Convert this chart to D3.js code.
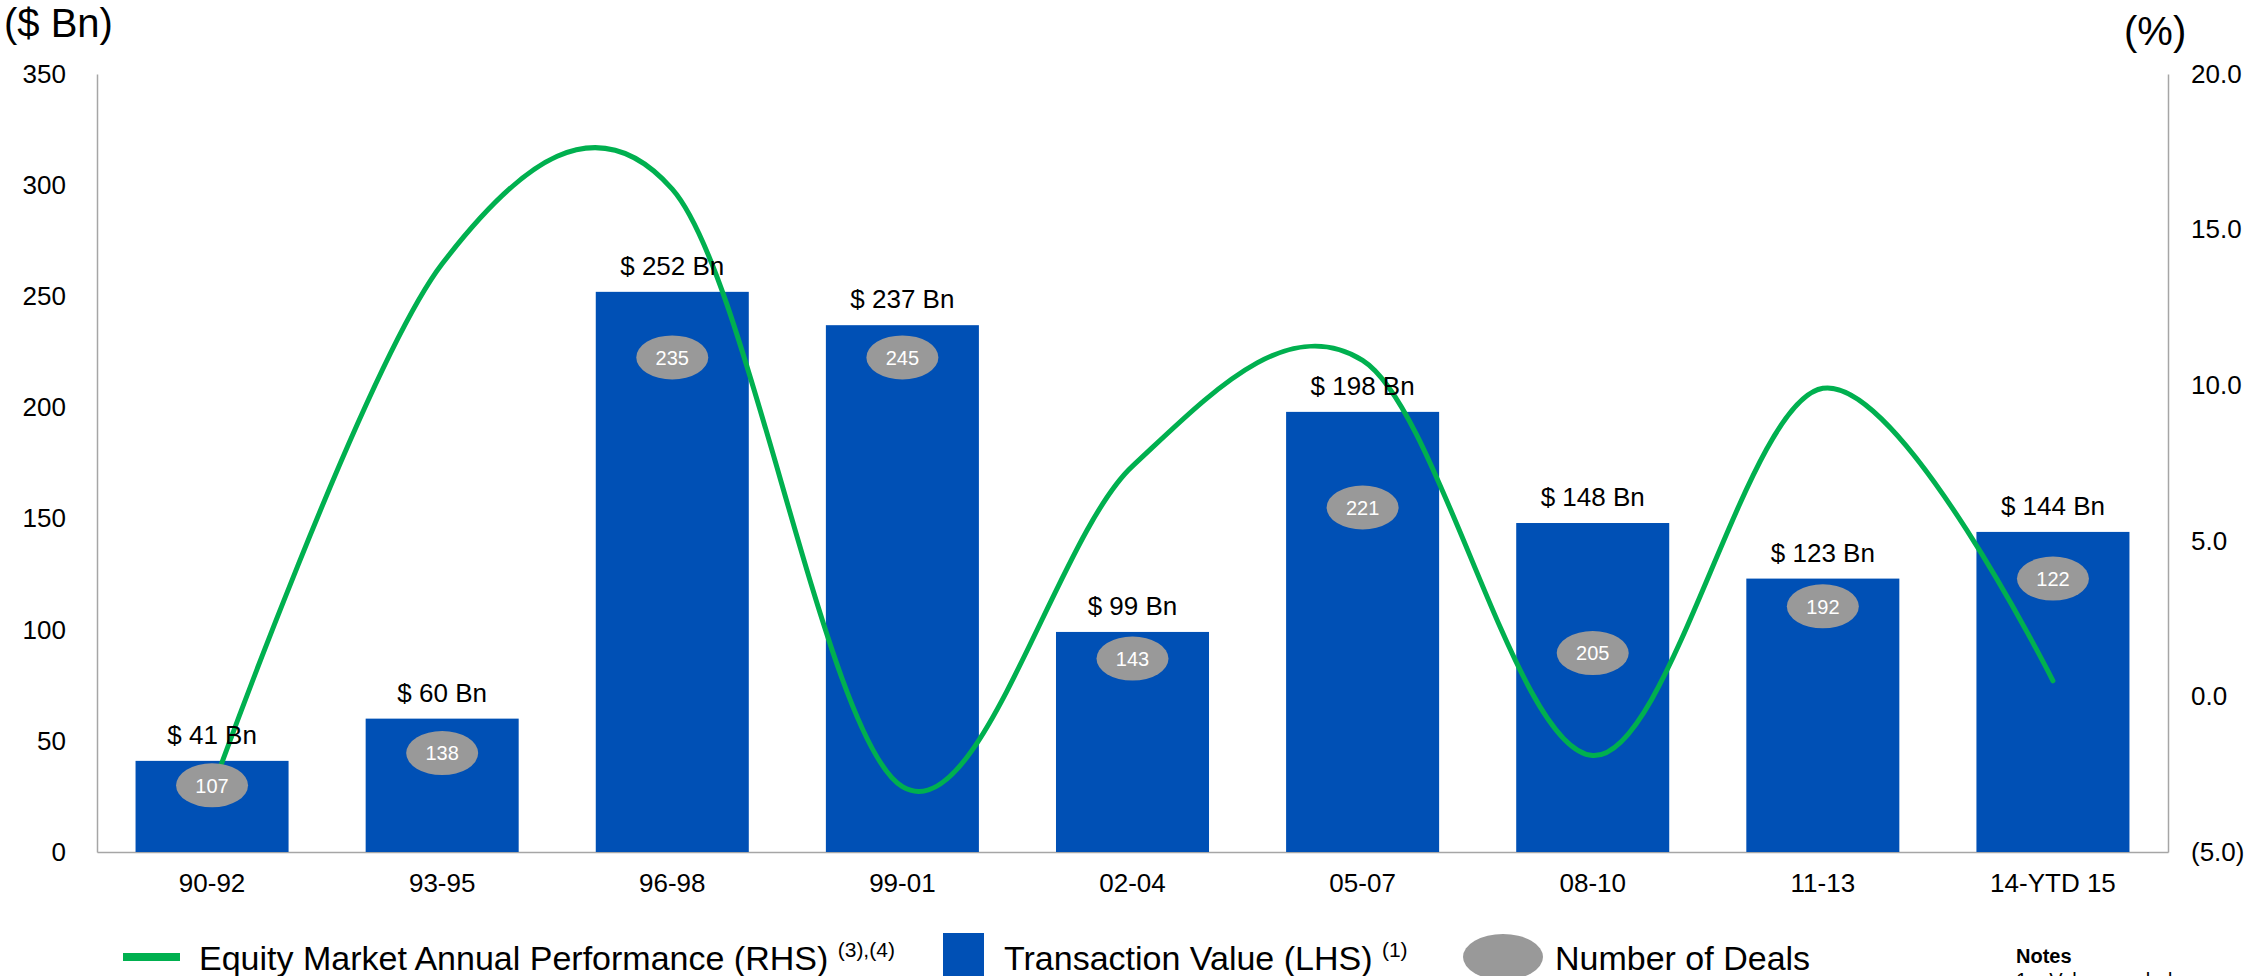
<!DOCTYPE html>
<html lang="en">
  <head>
    <meta charset="UTF-8" />
    <title>Transaction Value vs Equity Market Performance</title>
    <script src="https://cdn.jsdelivr.net/npm/d3@7"></script>
    <style>
      body {
        margin: 0;
        padding: 0;
        background: #fff;
      }
      text {
        font-family: "Liberation Sans", Arial, sans-serif;
      }
    </style>
  </head>
  <body>
    <svg id="chart"></svg>

    <script>
      // data
      const periods = ["90-92", "93-95", "96-98", "99-01", "02-04", "05-07", "08-10", "11-13", "14-YTD 15"];
      const transactionValue = [41, 60, 252, 237, 99, 198, 148, 123, 144];
      const dealCount = [107, 138, 235, 245, 143, 221, 205, 192, 122];
      // where each deal-count badge sits, in $ Bn on the left axis
      const badgeLevel = [30, 44.5, 222.5, 222.5, 87, 155, 89.5, 110.5, 123];
      const equityPerf = [-3.0, 13.9, 16.3, -2.9, 7.4, 10.8, -1.9, 9.9, 0.5];
      const leftTicks = [0, 50, 100, 150, 200, 250, 300, 350];
      const rightTicks = [-5, 0, 5, 10, 15, 20];

      const width = 2252;
      const height = 976;
      const plot = { left: 97, right: 2168, top: 74, bottom: 852 };

      const blue = "#0050b5";
      const green = "#00b04f";
      const grey = "#999999";
      const axisGrey = "#a6a6a6";

      const svg = d3.select("#chart").attr("width", width).attr("height", height);

      const x = d3
        .scaleBand()
        .domain(periods)
        .range([plot.left, plot.right])
        .paddingInner(0.335)
        .paddingOuter(0.1675);

      const yLeft = d3.scaleLinear().domain([0, 350]).range([plot.bottom, plot.top]);
      const yRight = d3.scaleLinear().domain([-5, 20]).range([plot.bottom, plot.top]);

      // axes (no tick marks, just the lines and labels)
      const leftAxis = svg
        .append("g")
        .attr("transform", `translate(${plot.left},0)`)
        .call(d3.axisLeft(yLeft).tickValues(leftTicks).tickSize(0).tickPadding(31));
      const rightAxis = svg
        .append("g")
        .attr("transform", `translate(${plot.right},0)`)
        .call(
          d3
            .axisRight(yRight)
            .tickValues(rightTicks)
            .tickSize(0)
            .tickPadding(23)
            .tickFormat((d) => (d < 0 ? `(${Math.abs(d).toFixed(1)})` : d.toFixed(1)))
        );
      const bottomAxis = svg
        .append("g")
        .attr("transform", `translate(0,${plot.bottom})`)
        .call(d3.axisBottom(x).tickSize(0).tickPadding(22));

      [leftAxis, rightAxis, bottomAxis].forEach((g) => {
        g.select(".domain").attr("stroke", axisGrey).attr("stroke-width", 1.5);
        g.selectAll("text")
          .attr("font-size", "26px")
          .attr("fill", "#000")
          .attr("font-family", '"Liberation Sans", Arial, sans-serif');
      });
      bottomAxis.selectAll("text").attr("dy", "0.71em");

      // axis titles
      svg.append("text").attr("x", 4).attr("y", 37).attr("font-size", "40px").text("($ Bn)");
      svg.append("text").attr("x", 2124).attr("y", 45).attr("font-size", "40px").text("(%)");

      // bars
      svg
        .append("g")
        .selectAll("rect")
        .data(periods)
        .join("rect")
        .attr("x", (d) => x(d))
        .attr("width", x.bandwidth())
        .attr("y", (d, i) => yLeft(transactionValue[i]))
        .attr("height", (d, i) => yLeft(0) - yLeft(transactionValue[i]))
        .attr("fill", blue);

      // equity performance line, smoothed like the spreadsheet
      const line = d3
        .line()
        .x((d, i) => x(periods[i]) + x.bandwidth() / 2)
        .y((d) => yRight(d))
        .curve(d3.curveCatmullRom.alpha(0));

      svg
        .append("path")
        .datum(equityPerf)
        .attr("d", line)
        .attr("fill", "none")
        .attr("stroke", green)
        .attr("stroke-width", 5)
        .attr("stroke-linecap", "round");

      // deal count badges
      const badges = svg
        .append("g")
        .selectAll("g")
        .data(periods)
        .join("g")
        .attr(
          "transform",
          (d, i) => `translate(${x(d) + x.bandwidth() / 2},${yLeft(badgeLevel[i])})`
        );
      badges.append("ellipse").attr("rx", 36).attr("ry", 22).attr("fill", grey);
      badges
        .append("text")
        .attr("text-anchor", "middle")
        .attr("dy", "0.36em")
        .attr("font-size", "20px")
        .attr("fill", "#fff")
        .text((d, i) => dealCount[i]);

      // value labels above bars
      svg
        .append("g")
        .selectAll("text")
        .data(periods)
        .join("text")
        .attr("x", (d) => x(d) + x.bandwidth() / 2)
        .attr("y", (d, i) => yLeft(transactionValue[i]) - 17)
        .attr("text-anchor", "middle")
        .attr("font-size", "26px")
        .attr("fill", "#000")
        .text((d, i) => `$ ${transactionValue[i]} Bn`);

      // legend
      const legend = svg.append("g");
      legend
        .append("line")
        .attr("x1", 123)
        .attr("x2", 180)
        .attr("y1", 957)
        .attr("y2", 957)
        .attr("stroke", green)
        .attr("stroke-width", 8);
      const t1 = legend.append("text").attr("x", 199).attr("y", 970).attr("font-size", "34px");
      t1.append("tspan").text("Equity Market Annual Performance (RHS) ");
      t1.append("tspan").attr("font-size", "21px").attr("dy", -13).text("(3),(4)");

      legend
        .append("rect")
        .attr("x", 943)
        .attr("y", 933)
        .attr("width", 41)
        .attr("height", 46)
        .attr("fill", blue);
      const t2 = legend.append("text").attr("x", 1004).attr("y", 970).attr("font-size", "34px");
      t2.append("tspan").text("Transaction Value (LHS) ");
      t2.append("tspan").attr("font-size", "21px").attr("dy", -13).text("(1)");

      legend
        .append("ellipse")
        .attr("cx", 1503)
        .attr("cy", 957)
        .attr("rx", 40)
        .attr("ry", 23)
        .attr("fill", grey);
      legend.append("text").attr("x", 1555).attr("y", 970).attr("font-size", "34px").text("Number of Deals");

      // notes (cut off by the page edge, as in the source)
      svg
        .append("text")
        .attr("x", 2016)
        .attr("y", 963)
        .attr("font-size", "20px")
        .attr("font-weight", "bold")
        .text("Notes");
      svg
        .append("text")
        .attr("x", 2016)
        .attr("y", 987)
        .attr("font-size", "20px")
        .attr("xml:space", "preserve")
        .text("1.   Values exclude");
    </script>
  </body>
</html>
